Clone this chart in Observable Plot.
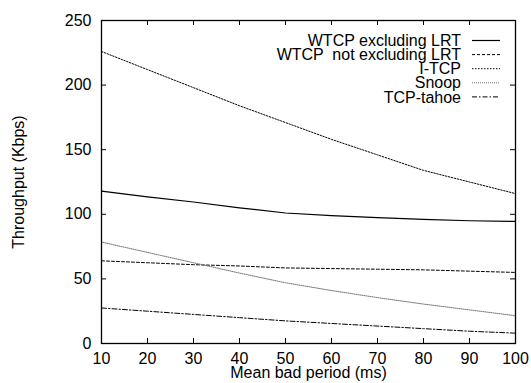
<!DOCTYPE html>
<html>
<head>
<meta charset="utf-8">
<script src="https://cdn.jsdelivr.net/npm/d3@7"></script>
<script src="https://cdn.jsdelivr.net/npm/@observablehq/plot@0.6"></script>
<style>
  html, body { margin: 0; padding: 0; background: #fff; }
</style>
</head>
<body>
<div id="chart"></div>
<script>
// x values: mean bad period (ms)
const badPeriod = [10, 20, 30, 40, 50, 60, 70, 80, 90, 100];
// series values: throughput (Kbps)
const wtcpExcl    = [118, 113.5, 109.5, 105, 101, 99, 97.5, 96, 95, 94.5];
const wtcpNotExcl = [64, 62.5, 61, 60, 58.5, 58, 57.5, 57, 56, 55];
const itcp        = [226, 212, 198, 184, 171, 158, 146, 134, 125, 116];
const snoop       = [78.5, 70.5, 62.5, 54.5, 47, 41, 35.5, 30.5, 26, 21.5];
const tahoe       = [27.5, 25, 22.5, 20, 17.5, 15.5, 13.5, 11.5, 9.5, 8];
const seriesNames = ["WTCP excluding LRT", "WTCP  not excluding LRT", "I-TCP", "Snoop", "TCP-tahoe"];
const seriesValues = [wtcpExcl, wtcpNotExcl, itcp, snoop, tahoe];
// tick labels
const xTicks = [10, 20, 30, 40, 50, 60, 70, 80, 90, 100];
const yTicks = [0, 50, 100, 150, 200, 250];
const xDomain = [10, 100], yDomain = [0, 250];

// layout & styles (separate from data)
const W = 531, H = 383, ML = 101, MR = 16, MT = 20, MB = 40, TICK = 5;
const PW = W - ML - MR, PH = H - MT - MB;
const tickDX = TICK * (xDomain[1] - xDomain[0]) / PW;   // tick length in x units
const tickDY = TICK * (yDomain[1] - yDomain[0]) / PH;   // tick length in y units
const styles = [
  {stroke: "#000", dash: null, width: 1.2},
  {stroke: "#000", dash: "3,2", width: 1},
  {stroke: "#000", dash: "1.5,1.5", width: 1},
  {stroke: "#777", dash: "1,1", width: 1},
  {stroke: "#000", dash: "5,2,1.5,2", width: 1}
];

const rows = [];
seriesNames.forEach((name, i) => {
  badPeriod.forEach((x, j) => rows.push({series: name, idx: i, x, y: seriesValues[i][j]}));
});

const lineMarks = seriesNames.map((name, i) =>
  Plot.line(rows.filter(d => d.idx === i), {
    x: "x", y: "y",
    stroke: styles[i].stroke,
    strokeWidth: styles[i].width,
    strokeDasharray: styles[i].dash
  })
);

// inward ticks on all four sides
const tickMarks = [
  Plot.ruleY(yTicks, {y: d => d, x1: () => xDomain[0], x2: () => xDomain[0] + tickDX, stroke: "#000", strokeWidth: 1}),
  Plot.ruleY(yTicks, {y: d => d, x1: () => xDomain[1] - tickDX, x2: () => xDomain[1], stroke: "#000", strokeWidth: 1}),
  Plot.ruleX(xTicks, {x: d => d, y1: () => yDomain[0], y2: () => yDomain[0] + tickDY, stroke: "#000", strokeWidth: 1}),
  Plot.ruleX(xTicks, {x: d => d, y1: () => yDomain[1] - tickDY, y2: () => yDomain[1], stroke: "#000", strokeWidth: 1})
];

function legend(index, scales, values, dims) {
  const w = dims ? dims.width : W;
  const mr = dims ? dims.marginRight : MR;
  const mt = dims ? dims.marginTop : MT;
  const right = w - mr;
  const g = d3.create("svg:g");
  seriesNames.forEach((name, i) => {
    const cy = mt + 20.5 + i * 14.1;
    g.append("text")
      .attr("x", right - 54)
      .attr("y", cy)
      .attr("dy", "0.35em")
      .attr("text-anchor", "end")
      .attr("fill", "#000")
      .text(name);
    g.append("line")
      .attr("x1", right - 43).attr("x2", right - 15)
      .attr("y1", cy).attr("y2", cy)
      .attr("stroke", styles[i].stroke)
      .attr("stroke-width", styles[i].width)
      .attr("stroke-dasharray", styles[i].dash);
  });
  return g.node();
}

const chart = Plot.plot({
  width: W,
  height: H,
  marginLeft: ML,
  marginRight: MR,
  marginTop: MT,
  marginBottom: MB,
  style: {fontFamily: "'Liberation Sans', Arial, Helvetica, sans-serif", fontSize: "16px", background: "#fff", color: "#000"},
  x: {domain: xDomain},
  y: {domain: yDomain},
  marks: [
    Plot.axisY(yTicks, {anchor: "left", tickSize: 0, tickPadding: 10, label: "Throughput (Kbps)", labelAnchor: "center", labelOffset: 89, labelArrow: "none"}),
    Plot.axisX(xTicks, {anchor: "bottom", tickSize: 0, tickPadding: 9, label: "Mean bad period (ms)", labelAnchor: "center", labelOffset: 34, labelArrow: "none"}),
    ...lineMarks,
    ...tickMarks,
    Plot.frame({stroke: "#000", strokeWidth: 1.3}),
    legend
  ]
});
document.getElementById("chart").appendChild(chart);
</script>
</body>
</html>
